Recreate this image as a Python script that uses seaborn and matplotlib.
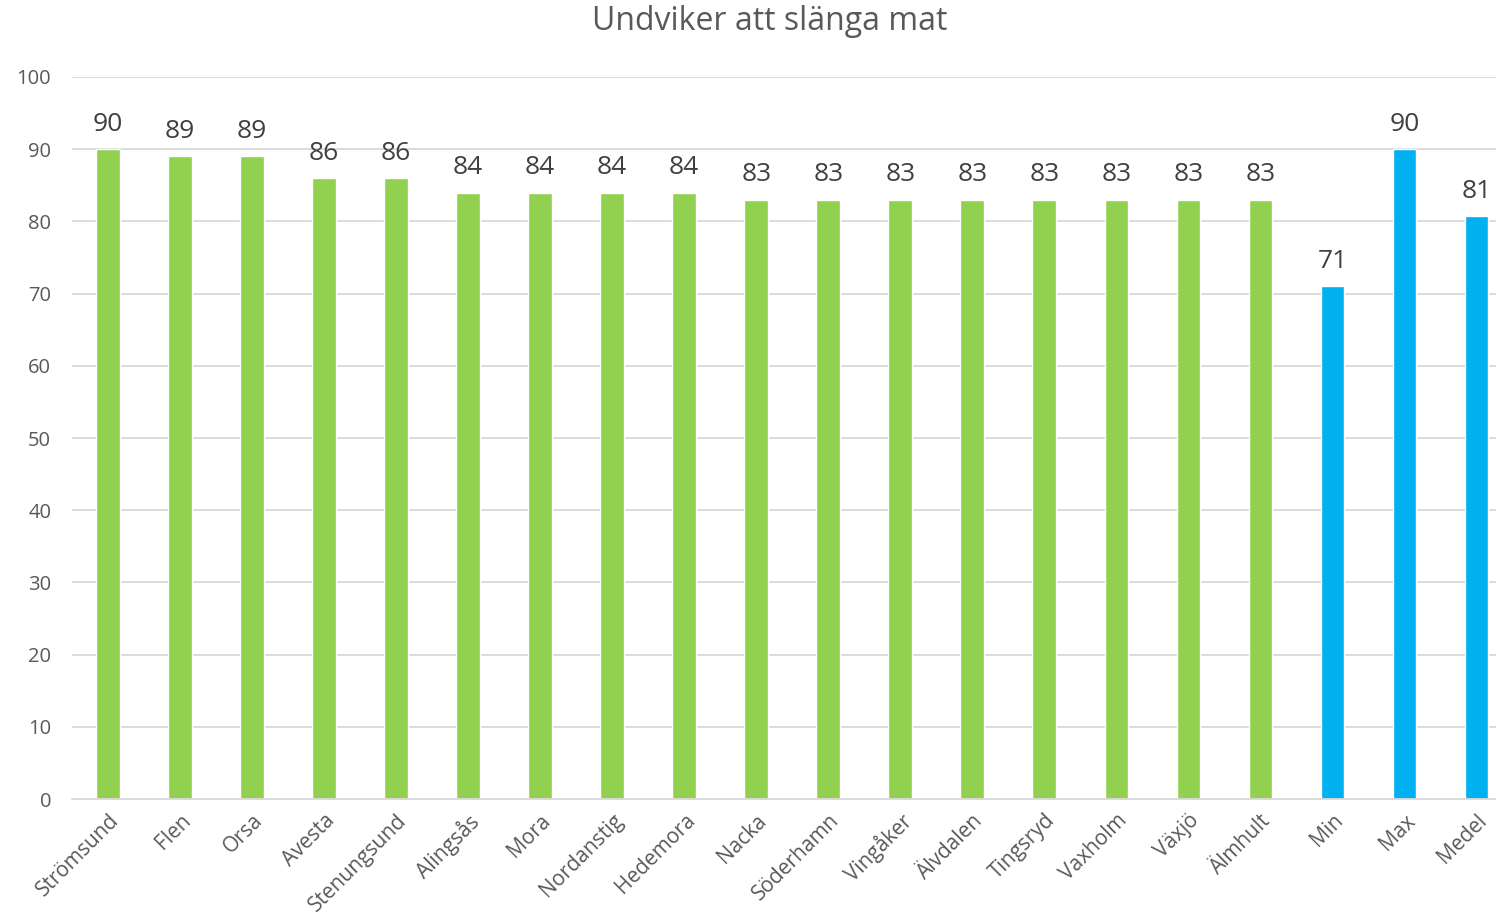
import matplotlib
matplotlib.use("Agg")
import matplotlib.pyplot as plt
import seaborn as sns
import pandas as pd

categories = ["Strömsund", "Flen", "Orsa", "Avesta", "Stenungsund", "Alingsås", "Mora",
              "Nordanstig", "Hedemora", "Nacka", "Söderhamn", "Vingåker", "Älvdalen",
              "Tingsryd", "Vaxholm", "Växjö", "Älmhult", "Min", "Max", "Medel"]
values = [90, 89, 89, 86, 86, 84, 84, 84, 84, 83, 83, 83, 83, 83, 83, 83, 83, 71, 90, 80.7]
labels = ["90", "89", "89", "86", "86", "84", "84", "84", "84", "83", "83", "83", "83",
          "83", "83", "83", "83", "71", "90", "81"]
colors = ["#92D050"] * 17 + ["#00B0F0"] * 3

sns.set_theme(style="white")
plt.rcParams['font.family'] = ['Open Sans', 'DejaVu Sans']

df = pd.DataFrame({"cat": categories, "val": values})
fig = plt.figure(figsize=(14.96, 9.21), dpi=100)
ax = fig.add_axes([72/1496, 1-799/921, 1-72/1496, (799-77)/921])
sns.barplot(data=df, x="cat", y="val", hue="cat", palette=colors, width=0.33,
            legend=False, ax=ax, saturation=1)

for cont, lab in zip(ax.containers, labels):
    ax.bar_label(cont, labels=[lab], padding=9, fontsize=19, color="#404040")

ax.set_ylim(0, 100)
ax.set_yticks(range(0, 101, 10))
ax.set_xlim(-0.5, 19.27)
ax.yaxis.grid(True, color="#D9D9D9", linewidth=1.3)
ax.set_axisbelow(True)
for s in ["top", "right", "left"]:
    ax.spines[s].set_visible(False)
ax.spines["bottom"].set_color("#D9D9D9")
ax.spines["bottom"].set_linewidth(1.3)
ax.tick_params(axis="y", length=0, labelsize=14.5, labelcolor="#595959", pad=15)
ax.tick_params(axis="x", length=0, labelsize=15, labelcolor="#595959", pad=8)
plt.setp(ax.get_xticklabels(), rotation=45, ha="right", rotation_mode="anchor")
ax.set_xlabel("")
ax.set_ylabel("")
fig.text(770/1496, 1-22/921, "Undviker att slänga mat", ha="center", va="center",
         fontsize=23, color="#595959")
fig.savefig("out.png", dpi=100)
